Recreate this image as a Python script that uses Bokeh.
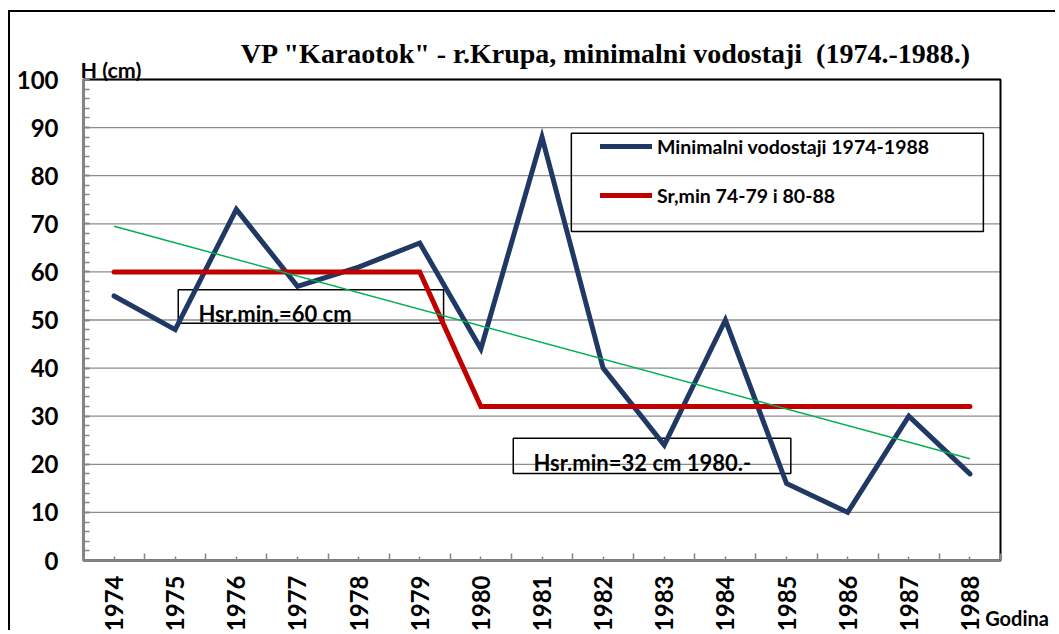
import math
import numpy as np
from bokeh.plotting import figure
from bokeh.models import FixedTicker, Label, Legend, LegendItem, Range1d
from bokeh.embed import file_html
from bokeh.resources import INLINE

# ---- data ----
years = list(range(1974, 1989))
year_labels = [str(y) for y in years]
min_levels = [55, 48, 73, 57, 61, 66, 44, 88, 40, 24, 50, 16, 10, 30, 18]
mean_levels = [60, 60, 60, 60, 60, 60, 32, 32, 32, 32, 32, 32, 32, 32, 32]
y_ticks = list(range(0, 101, 10))
y_minor = list(range(0, 101, 2))

title_text = 'VP "Karaotok" - r.Krupa, minimalni vodostaji \u00a0(1974.-1988.)'
y_title = "H (cm)"
x_title = "Godina"
series_names = ["Minimalni vodostaji 1974-1988", "Sr,min 74-79 i 80-88"]
note_texts = ["Hsr.min.=60 cm", "Hsr.min=32 cm 1980.-"]

# annotation placement (data units)
note_box_left = [1975.05, 1980.53]
note_box_right = [1979.39, 1985.07]
note_box_top = [56.3, 25.4]
note_box_bottom = [49.3, 18.1]
note_text_x = [1975.38, 1980.86]
note_text_y = [51.4, 20.4]
legend_box = dict(left=[1981.48], right=[1988.22], top=[88.8], bottom=[68.4])
title_pos = (1982.05, 105.4)
y_title_pos = (1973.45, 101.9)
x_title_pos = (1988.25, -12.0)

# linear trend of the minimal levels
coef = np.polyfit(years, min_levels, 1)
trend_x = [years[0], years[-1]]
trend_y = list(np.polyval(coef, trend_x))

BLUE = "#1F3864"
RED = "#C00000"
GREEN = "#00B050"
GREY = "#868686"
FONT = "Lato"

# ---- layout (pixels) ----
W, H = 1047, 620
PL, PR, PT, PB = 73, 990, 67, 548          # plot-area edges on the canvas
x0, x1 = years[0] - 0.5, years[-1] + 0.5
y0, y1 = 0, 100
sx = (PR - PL) / (x1 - x0)
sy = (PB - PT) / (y1 - y0)
xr = Range1d(x0 - PL / sx, x1 + (W - PR) / sx)
yr = Range1d(y0 - (H - PB) / sy, y1 + PT / sy)

p = figure(width=W, height=H, output_backend="svg", toolbar_location=None,
           x_range=xr, y_range=yr, min_border=0,
           background_fill_color="white", border_fill_color="white", title=None)
p.styles = {"border-left": "2px solid black", "border-top": "2px solid black",
            "margin-top": "10px", "margin-left": "8px"}
p.outline_line_color = None
p.xgrid.visible = False
p.ygrid.visible = False

# axes drawn at the plot-area edges
xa = p.xaxis[0]
xa.fixed_location = y0
xa.bounds = (x0, x1)
xa.ticker = FixedTicker(ticks=years, minor_ticks=[y - 0.5 for y in years] + [years[-1] + 0.5])
xa.major_label_overrides = {y: s for y, s in zip(years, year_labels)}
xa.major_label_orientation = math.pi / 2
xa.major_label_standoff = 15
xa.major_tick_in = 4
xa.major_tick_out = 0
xa.minor_tick_in = 7
xa.minor_tick_out = 0

ya = p.yaxis[0]
ya.fixed_location = x0
ya.bounds = (y0, y1)
ya.ticker = FixedTicker(ticks=y_ticks, minor_ticks=y_minor)
ya.major_label_standoff = 25
ya.major_tick_in = 6
ya.major_tick_out = 0
ya.minor_tick_in = 6
ya.minor_tick_out = 0

for ax in (xa, ya):
    ax.axis_line_color = GREY
    ax.axis_line_width = 2
    ax.major_tick_line_color = GREY
    ax.minor_tick_line_color = GREY
    ax.major_tick_line_width = 1.5
    ax.minor_tick_line_width = 1.5
    ax.major_label_text_font = FONT
    ax.major_label_text_font_style = "bold"
    ax.major_label_text_font_size = "24px"
    ax.major_label_text_color = "black"

# horizontal grid lines at the y ticks
p.segment(x0=[x0] * len(y_ticks), x1=[x1] * len(y_ticks), y0=y_ticks, y1=y_ticks,
          line_color="#8c8c8c", line_width=1.3)
# plot-area frame
p.quad(left=[x0], right=[x1], bottom=[y0], top=[y1], fill_alpha=0,
       line_color="black", line_width=2)

# boxes (transparent)
p.quad(left=note_box_left, right=note_box_right, top=note_box_top,
       bottom=note_box_bottom, fill_alpha=0, line_color="black", line_width=1.5)
p.quad(fill_alpha=0, line_color="black", line_width=1.5, **legend_box)

# series
r_blue = p.line(years, min_levels, line_color=BLUE, line_width=5,
                line_join="miter", line_cap="round")
r_red = p.line(years, mean_levels, line_color=RED, line_width=5,
               line_join="miter", line_cap="round")
p.line(trend_x, trend_y, line_color=GREEN, line_width=1.5)

legend = Legend(items=[LegendItem(label=series_names[0], renderers=[r_blue]),
                       LegendItem(label=series_names[1], renderers=[r_red])],
                location=(590, 424), padding=0, margin=0, spacing=23,
                glyph_width=52, glyph_height=26, label_height=26,
                label_standoff=5, border_line_color=None,
                background_fill_alpha=0,
                label_text_font=FONT, label_text_font_style="bold",
                label_text_font_size="19.5px", label_text_color="black")
p.add_layout(legend)

# texts
for t, x, y in zip(note_texts, note_text_x, note_text_y):
    p.add_layout(Label(x=x, y=y, text=t, text_font=FONT, text_font_style="bold",
                       text_font_size="22px", text_baseline="alphabetic",
                       text_align="left", text_color="black"))

p.add_layout(Label(x=title_pos[0], y=title_pos[1], text=title_text,
                   text_font="Liberation Serif", text_font_style="bold",
                   text_font_size="28px", text_align="center",
                   text_baseline="alphabetic", text_color="black"))
p.add_layout(Label(x=y_title_pos[0], y=y_title_pos[1], text=y_title, text_font=FONT,
                   text_font_style="bold", text_font_size="21.5px",
                   text_align="left", text_baseline="alphabetic",
                   text_color="black"))
p.add_layout(Label(x=x_title_pos[0], y=x_title_pos[1], text=x_title, text_font=FONT,
                   text_font_style="bold", text_font_size="20px",
                   text_align="left", text_baseline="alphabetic",
                   text_color="black"))

open("out.html", "w").write(file_html(p, INLINE))
